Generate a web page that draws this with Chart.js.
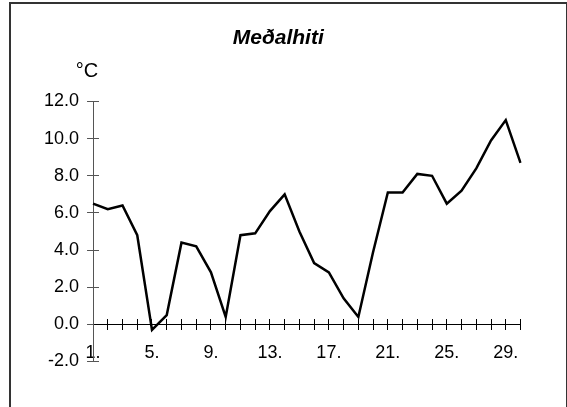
<!DOCTYPE html>
<html>
<head>
<meta charset="utf-8">
<script src="https://cdn.jsdelivr.net/npm/chart.js@4"></script>
<style>
  html, body { margin: 0; padding: 0; background: #fff; }
  #wrap { position: relative; width: 567px; height: 407px; }
  #frame { position: absolute; left: 9px; top: 2px; width: 555px; height: 420px;
           border: 2px solid #333; pointer-events: none; }
  canvas { position: absolute; left: 0; top: 0; }
</style>
</head>
<body>
<div id="wrap">
  <canvas id="c" width="567" height="407"></canvas>
  <div id="frame"></div>
</div>
<script>
const days = ['1.','2.','3.','4.','5.','6.','7.','8.','9.','10.','11.','12.','13.','14.','15.',
              '16.','17.','18.','19.','20.','21.','22.','23.','24.','25.','26.','27.','28.','29.','30.'];
const meanTemp = [6.5, 6.2, 6.4, 4.8, -0.3, 0.5, 4.4, 4.2, 2.8, 0.4, 4.8, 4.9, 6.1, 7.0, 5.0,
                  3.3, 2.8, 1.4, 0.4, 3.9, 7.1, 7.1, 8.1, 8.0, 6.5, 7.2, 8.4, 9.9, 11.0, 8.7];
const yMin = -2, yMax = 12, yStep = 2;
const labelEvery = 4;
const titleText = 'Meðalhiti';
const unitText = '°C';

const FONT = "'Liberation Sans', Arial, sans-serif";

const unitLabel = {
  id: 'unitLabel',
  afterDraw(chart) {
    const {ctx, chartArea} = chart;
    ctx.save();
    ctx.font = '20px ' + FONT;
    ctx.fillStyle = '#000';
    ctx.textAlign = 'center';
    ctx.textBaseline = 'middle';
    ctx.fillText(unitText, chartArea.left - 6, chartArea.top - 30);
    ctx.restore();
  }
};

new Chart(document.getElementById('c'), {
  type: 'line',
  data: {
    labels: days,
    datasets: [{
      data: meanTemp,
      borderColor: '#000',
      borderWidth: 2.5,
      pointRadius: 0,
      tension: 0,
      fill: false,
      xAxisID: 'x',
      yAxisID: 'y'
    }]
  },
  options: {
    responsive: false,
    animation: false,
    devicePixelRatio: 1,
    layout: { padding: { left: 36, right: 46.5, top: 0, bottom: 45.5 } },
    plugins: {
      legend: { display: false },
      tooltip: { enabled: false },
      title: {
        display: true,
        text: titleText,
        color: '#000',
        font: { family: FONT, size: 21, weight: 'bold', style: 'italic', lineHeight: 1.2 },
        padding: { top: 26, bottom: 50.3 }
      }
    },
    scales: {
      x: {
        type: 'category',
        position: { y: 0 },
        offset: false,
        grid: { display: true, drawOnChartArea: false, drawTicks: true, tickLength: 5, color: '#000', lineWidth: 1 },
        border: { display: true, color: '#000', width: 1 },
        ticks: {
          autoSkip: false, maxRotation: 0, minRotation: 0, padding: 13,
          color: '#000', font: { family: FONT, size: 18 },
          callback: function(v, i) { return i % labelEvery === 0 ? days[i] : ''; }
        }
      },
      x2: {
        type: 'category',
        position: { y: 0.27 },
        offset: false,
        grid: { display: true, drawOnChartArea: false, drawTicks: true, tickLength: 5, color: '#000', lineWidth: 1 },
        border: { display: false },
        ticks: { display: false, autoSkip: false, maxRotation: 0 }
      },
      y: {
        type: 'linear',
        position: 'left',
        min: yMin, max: yMax,
        grid: { display: true, drawOnChartArea: false, drawTicks: true, tickLength: 6, color: '#555', lineWidth: 1 },
        border: { display: true, color: '#555', width: 1 },
        ticks: {
          stepSize: yStep, padding: 8, color: '#000',
          font: { family: FONT, size: 18 },
          callback: v => v.toFixed(1)
        }
      },
      y2: {
        type: 'linear',
        position: { x: 0.407 },
        min: yMin, max: yMax,
        grid: { display: true, drawOnChartArea: false, drawTicks: true, tickLength: 6, color: '#555', lineWidth: 1 },
        border: { display: false },
        ticks: { display: false, stepSize: yStep }
      }
    }
  },
  plugins: [unitLabel]
});
</script>
</body>
</html>
